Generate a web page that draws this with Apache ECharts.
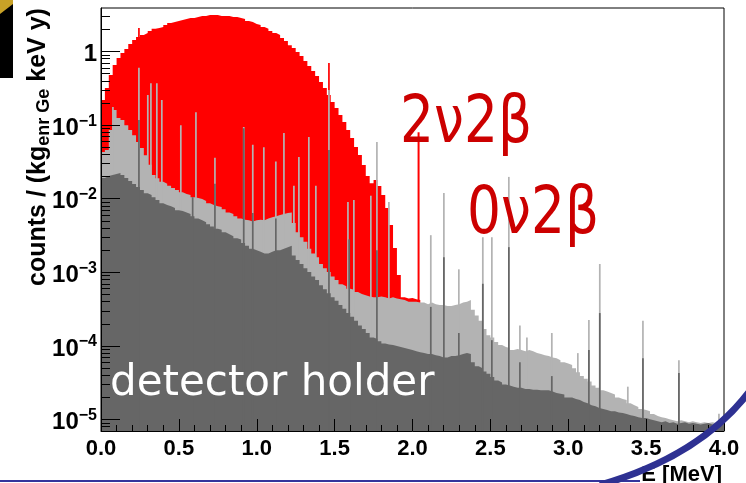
<!DOCTYPE html>
<html>
<head>
<meta charset="utf-8">
<script src="https://cdn.jsdelivr.net/npm/echarts@6/dist/echarts.min.js"></script>
<style>
  html, body { margin: 0; padding: 0; background: #fff; }
  #chart { width: 746px; height: 483px; }
</style>
</head>
<body>
<div id="chart"></div>
<script>
// 能量直方图：0 - 4 MeV，每格 25 keV
const BIN = 0.025;
const PEAK_W = 0.011;
const Y_MIN = 7e-6;
const Y_MAX = 3.9;
const X_TICKS = [0, 0.5, 1, 1.5, 2, 2.5, 3, 3.5, 4];
const Y_MAJOR = [1e-5, 1e-4, 1e-3, 1e-2, 1e-1, 1];

// 2νββ + 本底（红）
const red = [
  0.219, 0.319, 0.48, 0.656, 0.816, 0.954, 1.08, 1.26, 1.43, 1.57,
  1.68, 1.78, 1.90, 2.04, 2.09, 2.15, 2.29, 2.44, 2.52, 2.59,
  2.68, 2.76, 2.85, 2.85, 2.94, 3.03, 3.03, 3.13, 3.13, 3.13,
  3.03, 3.03, 3.03, 2.94, 2.94, 2.85, 2.76, 2.59, 2.52, 2.37,
  2.29, 2.15, 2.04, 1.90, 1.78, 1.68, 1.53, 1.39, 1.22, 1.12,
  0.984, 0.869, 0.743, 0.635, 0.543, 0.464, 0.385, 0.319, 0.256, 0.206,
  0.171, 0.137, 0.110, 0.0858, 0.0666, 0.0503, 0.0393, 0.0287, 0.0204, 0.0163,
  0.0180, 0.0149, 0.0112, 0.0075, 0.0044, 0.00215, 0.00092, 0.00046, 0.00044, 0.00045,
  0.00043, 0.00042
];

// 全部本底（浅灰）
const bgTotal = [
  0.043, 0.046, 0.086, 0.16, 0.125, 0.117, 0.10, 0.086, 0.073, 0.059,
  0.049, 0.039, 0.029, 0.021, 0.019, 0.017, 0.016, 0.015, 0.014, 0.0131,
  0.0123, 0.0116, 0.0112, 0.0105, 0.0102, 0.0099, 0.0093, 0.0087, 0.0082, 0.0079,
  0.0077, 0.0072, 0.0065, 0.0062, 0.0058, 0.0054, 0.0052, 0.0051, 0.0049, 0.0051,
  0.0052, 0.0051, 0.0054, 0.0056, 0.0058, 0.0060, 0.0062, 0.0064, 0.0065, 0.0047,
  0.0035, 0.0030, 0.0026, 0.0021, 0.0018, 0.0016, 0.0013, 0.00114, 0.00101, 0.00088,
  0.00079, 0.00069, 0.00065, 0.00060, 0.00058, 0.00054, 0.00051, 0.00049, 0.00047, 0.00046,
  0.00046, 0.00047, 0.00046, 0.00044, 0.00046, 0.00044, 0.00043, 0.00042, 0.00040, 0.00040,
  0.00040, 0.00039, 0.00039, 0.00037, 0.00039, 0.00037, 0.00036, 0.00036, 0.00035, 0.00035,
  0.00036, 0.00037, 0.00039, 0.00040, 0.00042, 0.00031, 0.00026, 0.00022, 0.00017, 0.00014,
  0.00013, 0.000113, 0.000103, 0.000097, 0.000094, 0.000088, 0.000091, 0.000088, 0.000085, 0.000088,
  0.000085, 0.000080, 0.000078, 0.000075, 0.000073, 0.000070, 0.000068, 0.000064, 0.000060, 0.000058,
  0.000055, 0.000050, 0.000044, 0.000039, 0.000036, 0.000033, 0.000029, 0.000027, 0.000025, 0.000024,
  0.000023, 0.000022, 0.000020, 0.000019, 0.0000184, 0.0000167, 0.0000157, 0.0000148, 0.0000139, 0.0000135,
  0.000013, 0.0000119, 0.0000112, 0.0000108, 0.0000105, 0.0000101, 0.0000098, 0.0000095, 0.0000098, 0.0000095,
  0.0000092, 0.0000095, 0.0000092, 0.000009, 0.0000092, 0.000009, 0.0000092, 0.000009, 0.0000095, 0.000009
];

// 探测器支架（深灰）
const holder = [
  0.0191, 0.0203, 0.021, 0.0217, 0.0224, 0.021, 0.0191, 0.0174, 0.0159, 0.0144,
  0.0131, 0.0119, 0.0112, 0.0105, 0.0096, 0.0087, 0.0082, 0.0079, 0.0075, 0.0070,
  0.0068, 0.0065, 0.0062, 0.0058, 0.0054, 0.0051, 0.0048, 0.0045, 0.0042, 0.0039,
  0.0038, 0.0035, 0.0033, 0.0031, 0.0029, 0.0028, 0.0025, 0.0023, 0.0021, 0.0020,
  0.0019, 0.0018, 0.0018, 0.0019, 0.0020, 0.0020, 0.0021, 0.0022, 0.0023, 0.0017,
  0.00147, 0.0013, 0.00114, 0.00101, 0.00088, 0.00079, 0.00067, 0.00059, 0.00052, 0.00046,
  0.00041, 0.00036, 0.00032, 0.00028, 0.00025, 0.00022, 0.00019, 0.00017, 0.00015, 0.00013,
  0.000124, 0.000116, 0.000108, 0.000105, 0.000103, 0.0001, 0.000097, 0.000094, 0.000091, 0.000088,
  0.000085, 0.000082, 0.00008, 0.000078, 0.000078, 0.000075, 0.000073, 0.00007, 0.00007, 0.000073,
  0.000073, 0.000075, 0.000078, 0.00008, 0.000078, 0.00006, 0.000053, 0.00005, 0.000045, 0.000042,
  0.000038, 0.000034, 0.000032, 0.00003, 0.000029, 0.000028, 0.000027, 0.000027, 0.000026, 0.000026,
  0.0000255, 0.0000255, 0.000025, 0.000025, 0.000025, 0.000024, 0.000023, 0.0000225, 0.000022, 0.00002,
  0.00002, 0.000019, 0.0000184, 0.0000174, 0.0000167, 0.0000157, 0.0000152, 0.0000144, 0.0000139, 0.0000135,
  0.000013, 0.000013, 0.0000125, 0.0000123, 0.0000119, 0.0000115, 0.0000112, 0.0000108, 0.0000105, 0.0000105,
  0.0000101, 0.0000098, 0.0000095, 0.0000092, 0.0000095, 0.000009, 0.0000092, 0.0000088, 0.000009, 0.0000092,
  0.0000088, 0.000009, 0.0000088, 0.0000086, 0.0000088, 0.000009, 0.0000086, 0.0000088, 0.0000086, 0.0000088
];

// γ 线峰：[能量 MeV, 峰顶计数]
const redPeaks = [[0.238, 2.09], [1.458, 0.70]];
const bgPeaks = [
  [0.071, 0.176], [0.238, 0.60], [0.295, 0.256], [0.315, 0.37], [0.353, 0.37], [0.385, 0.22],
  [0.507, 0.10], [0.604, 0.15], [0.726, 0.036], [0.911, 0.094], [0.969, 0.054], [1.04, 0.05],
  [1.117, 0.032], [1.169, 0.078], [1.233, 0.015], [1.265, 0.037], [1.329, 0.069], [1.374, 0.015],
  [1.458, 0.30], [1.58, 0.009], [1.618, 0.0096], [1.727, 0.011], [1.766, 0.059], [1.843, 0.009],
  [2.112, 0.0032], [2.196, 0.012], [2.292, 0.0011], [2.446, 0.003], [2.504, 0.003], [2.613, 0.0198],
  [2.684, 0.00019], [2.729, 0.00013], [2.889, 0.00015], [3.056, 0.00008], [3.127, 0.000225], [3.197, 0.0013],
  [3.377, 0.000028], [3.474, 0.00022], [3.705, 0.000064], [3.962, 0.000012]
];
const holderPeaks = [
  [0.238, 0.117], [0.583, 0.0105], [0.726, 0.016], [0.911, 0.091], [0.969, 0.0064], [1.117, 0.0054],
  [1.458, 0.046], [1.588, 0.0028], [1.766, 0.002], [2.112, 0.00034], [2.196, 0.0016], [2.292, 0.00015],
  [2.446, 0.0007], [2.504, 0.00012], [2.613, 0.0022], [2.684, 0.00006], [2.889, 0.000039], [3.127, 0.000088],
  [3.197, 0.00028], [3.474, 0.000068], [3.705, 0.000043]
];

// Q_ββ 标记线
const qbb = [[2.039, 0.08], [2.039, 0.0004]];

// 直方图 -> 阶梯折线点（每格左右两端）
function histPoints(vals) {
  const pts = [];
  vals.forEach((v, i) => {
    pts.push([+(i * BIN).toFixed(4), v], [+((i + 1) * BIN).toFixed(4), v]);
  });
  return pts;
}

function histSeries(name, vals, color, z) {
  return {
    name, type: 'line', z, data: histPoints(vals), symbol: 'none', silent: true,
    lineStyle: { width: 0 },
    itemStyle: { color },
    areaStyle: { color, opacity: 1, origin: Y_MIN }
  };
}

// 峰：细竖条，底部到轴下限（同色连续谱会盖住下半部分）
function peakSeries(name, peaks, color, z) {
  return {
    name, type: 'custom', z, data: peaks, silent: true,
    encode: { x: 0, y: 1 },
    renderItem: (params, api) => {
      const top = api.coord([api.value(0), api.value(1)]);
      const bottom = api.coord([api.value(0) + PEAK_W, Y_MIN]);
      return {
        type: 'rect',
        shape: { x: top[0], y: top[1], width: Math.max(bottom[0] - top[0], 1.4), height: bottom[1] - top[1] },
        style: { fill: color }
      };
    }
  };
}

// 次刻度 2..9 × 10^k
const yMinor = [];
for (let k = -6; k <= 0; k++) {
  for (let m = 2; m <= 9; m++) {
    const v = +(m * Math.pow(10, k)).toPrecision(3);
    if (v > Y_MIN && v < Y_MAX) yMinor.push(v);
  }
}

const FONT = '"Liberation Sans", Arial, sans-serif';

const chart = echarts.init(document.getElementById('chart'));
chart.setOption({
  animation: false,
  backgroundColor: '#fff',
  textStyle: { fontFamily: FONT },
  grid: {
    left: 101, right: 22, top: 8, bottom: 52,
    show: true, borderColor: '#000', borderWidth: 1,
    containLabel: false, outerBoundsMode: 'none'
  },
  xAxis: {
    type: 'value', min: 0, max: 4, interval: 0.5, z: 20,
    axisLine: { show: true, lineStyle: { color: '#000', width: 1 } },
    axisTick: { show: true, inside: true, length: 12, lineStyle: { color: '#000' } },
    minorTick: { show: true, splitNumber: 5, length: 6, lineStyle: { color: '#000' } },
    splitLine: { show: false },
    axisLabel: {
      margin: 7, color: '#000', fontSize: 22, fontWeight: 'bold', fontFamily: FONT,
      formatter: v => X_TICKS.includes(v) ? v.toFixed(1) : ''
    }
  },
  yAxis: [{
    type: 'log', logBase: 10, min: Y_MIN, max: Y_MAX, position: 'left', z: 20,
    axisLine: { show: true, lineStyle: { color: '#000', width: 1 } },
    axisTick: { show: true, inside: true, length: 19, customValues: Y_MAJOR, lineStyle: { color: '#000' } },
    splitLine: { show: false },
    axisLabel: {
      customValues: Y_MAJOR, margin: 4, color: '#000', padding: [6, 0, 0, 0],
      formatter: v => {
        const e = Math.round(Math.log10(v));
        return e === 0 ? '{a|1}' : '{a|10}{b|' + String(e).replace('-', '\u2212') + '}';
      },
      rich: {
        a: { fontSize: 24, fontWeight: 'bold', fontFamily: FONT, color: '#000', lineHeight: 30 },
        b: { fontSize: 16, fontWeight: 'bold', fontFamily: FONT, color: '#000', lineHeight: 12, verticalAlign: 'top' }
      }
    }
  }, {
    type: 'log', logBase: 10, min: Y_MIN, max: Y_MAX, position: 'left', z: 20,
    axisLine: { show: false },
    axisLabel: { show: false },
    splitLine: { show: false },
    axisTick: { show: true, inside: true, length: 9, customValues: yMinor, lineStyle: { color: '#000' } }
  }],
  series: [
    histSeries('2νββ', red, '#ff0000', 1),
    peakSeries('2νββ peaks', redPeaks, '#ff0000', 2),
    histSeries('background', bgTotal, '#b3b3b3', 3),
    peakSeries('background peaks', bgPeaks, '#b3b3b3', 4),
    histSeries('detector holder', holder, '#666666', 5),
    peakSeries('detector holder peaks', holderPeaks, '#666666', 6),
    {
      name: 'Qbb', type: 'line', z: 7, data: qbb, symbol: 'none', silent: true,
      lineStyle: { color: '#ff0000', width: 2 }
    }
  ],
  graphic: [
    { type: 'text', x: 400, y: 125, scaleX: 0.81, z: 50,
      style: { text: '2ν2β', font: '66px "DejaVu Sans"', fill: '#cc0000', verticalAlign: 'middle' } },
    { type: 'text', x: 467, y: 216, scaleX: 0.81, z: 50,
      style: { text: '0ν2β', font: '66px "DejaVu Sans"', fill: '#cc0000', verticalAlign: 'middle' } },
    { type: 'text', x: 110, y: 384, z: 50,
      style: { text: 'detector holder', font: '42px "DejaVu Sans"', fill: '#ffffff', verticalAlign: 'middle' } },
    { type: 'text', x: 38, y: 286, rotation: Math.PI / 2, z: 50,
      style: {
        text: '{a|counts / (kg}{s|enr Ge}{a| keV y)}', align: 'left', verticalAlign: 'middle',
        rich: {
          a: { font: 'bold 25px ' + FONT, fill: '#000', lineHeight: 30 },
          s: { font: 'bold 18px ' + FONT, fill: '#000', lineHeight: 17, verticalAlign: 'bottom' }
        }
      } },
    { type: 'text', x: 722, y: 464, z: 50,
      style: { text: 'E [MeV]', font: 'bold 22px ' + FONT, fill: '#000', align: 'right', verticalAlign: 'top' } },
    { type: 'rect', z: 60, shape: { x: 0, y: 0, width: 13, height: 78 }, style: { fill: '#000' } },
    { type: 'polygon', z: 61, shape: { points: [[0, 0], [13, 0], [13, 4], [0, 14]] }, style: { fill: '#c9a227' } },
    { type: 'line', z: 60, shape: { x1: 0, y1: 481, x2: 640, y2: 481 }, style: { stroke: '#34349c', lineWidth: 2 } },
    { type: 'bezierCurve', z: 61,
      shape: { x1: 600, y1: 485, cpx1: 680, cpy1: 462, cpx2: 725, cpy2: 425, x2: 752, y2: 388 },
      style: { stroke: '#2e3192', lineWidth: 7, fill: null } }
  ]
});
</script>
</body>
</html>
